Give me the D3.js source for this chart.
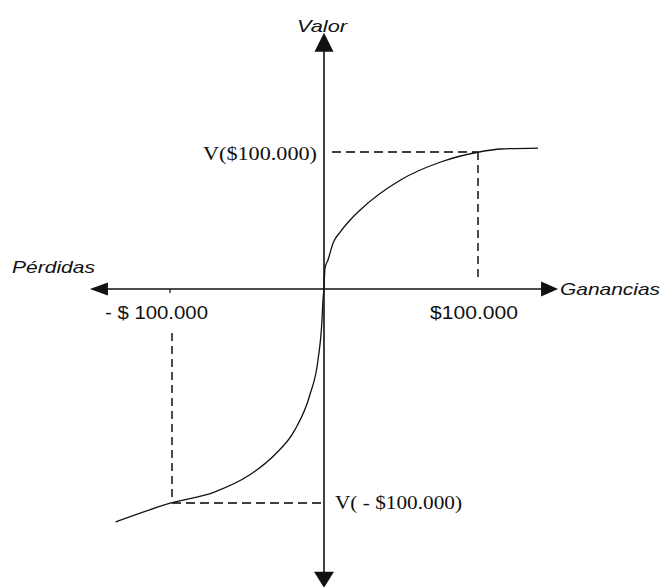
<!DOCTYPE html>
<html>
<head>
<meta charset="utf-8">
<script src="https://cdn.jsdelivr.net/npm/d3@7"></script>
<style>
  html, body { margin: 0; padding: 0; background: #fff; }
  svg { display: block; }
</style>
</head>
<body>
<script>
// ---- data (x in $ thousands, V in arbitrary value units) ----
const axisXExtent = [-152, 152];
const axisYExtent = [-218, 187];
const gainsX  = [0, 0.65, 2.6, 5.9, 10.5, 17, 23.5, 49.7, 75.8, 100.7, 115, 139];
const gainsV  = [0, 15.3, 21.2, 33.6, 41.6, 50.4, 57.7, 79.6, 92.7, 100, 102.2, 102.9];
const lossesX = [-135.3, -99.3, -71.2, -48.4, -32, -19, -9.2, -3.9, -1.3, -0.65, 0];
const lossesV = [-170, -156.2, -148.2, -135.8, -121, -103, -77.4, -51.8, -22.6, -8, 0];
const refX = [100, -100];
const refV = [100, -156.2];
const tickLabels = ["$100.000", "- $ 100.000"];
const valueLabels = ["V($100.000)", "V( - $100.000)"];
const axisTitles = ["Valor", "Pérdidas", "Ganancias"];

const W = 661, H = 587;
const svg = d3.select("body").append("svg").attr("width", W).attr("height", H);

const x = d3.scaleLinear().domain([0, 100]).range([324, 478]);
const y = d3.scaleLinear().domain([0, 100]).range([289, 152]);

const ink = "#111";

// ---- axes ----
svg.append("line")
  .attr("x1", x(axisXExtent[0]) + 10).attr("x2", x(axisXExtent[1]) - 10)
  .attr("y1", y(0)).attr("y2", y(0))
  .attr("stroke", ink).attr("stroke-width", 1.6);
svg.append("line")
  .attr("x1", x(0)).attr("x2", x(0))
  .attr("y1", y(axisYExtent[1]) + 10).attr("y2", y(axisYExtent[0]) - 10)
  .attr("stroke", ink).attr("stroke-width", 1.6);

// arrowheads
const tri = pts => "M" + pts.map(p => p.join(",")).join("L") + "Z";
const xl = x(axisXExtent[0]), xr = x(axisXExtent[1]);
const yt = y(axisYExtent[1]), yb = y(axisYExtent[0]);
const x0 = x(0), y0 = y(0);
svg.append("path").attr("d", tri([[xl, y0], [xl + 18, y0 - 6.5], [xl + 18, y0 + 6.5]])).attr("fill", ink);
svg.append("path").attr("d", tri([[xr, y0], [xr - 17, y0 - 7.5], [xr - 17, y0 + 7.5]])).attr("fill", ink);
svg.append("path").attr("d", tri([[x0, yt], [x0 - 9.5, yt + 19], [x0 + 9.5, yt + 19]])).attr("fill", ink);
svg.append("path").attr("d", tri([[x0, yb], [x0 - 10, yb - 16], [x0 + 10, yb - 16]])).attr("fill", ink);

// small tick at -100
svg.append("line")
  .attr("x1", x(refX[1])).attr("x2", x(refX[1]))
  .attr("y1", y0).attr("y2", y0 + 4)
  .attr("stroke", ink).attr("stroke-width", 1.2);

// ---- dashed reference lines ----
const dash = g => g.attr("stroke", "#000").attr("stroke-width", 1.4).attr("stroke-dasharray", "9,5").attr("fill", "none");
// gain reference
svg.append("line").call(dash)
  .attr("x1", x0 + 8).attr("x2", x(refX[0])).attr("y1", y(refV[0])).attr("y2", y(refV[0]));
svg.append("line").call(dash).attr("stroke-dasharray", "8,5")
  .attr("x1", x(refX[0])).attr("x2", x(refX[0])).attr("y1", y(refV[0])).attr("y2", y0 - 9);
// loss reference
svg.append("line").call(dash)
  .attr("x1", x(refX[1]) + 2).attr("x2", x0).attr("y1", y(refV[1])).attr("y2", y(refV[1]));
svg.append("line").call(dash).attr("stroke-dasharray", "8,5")
  .attr("x1", x(refX[1]) + 2).attr("x2", x(refX[1]) + 2).attr("y1", y0 + 44).attr("y2", y(refV[1]));

// ---- value curve ----
const line = d3.line().x(d => x(d[0])).y(d => y(d[1])).curve(d3.curveMonotoneX);
svg.append("path").datum(gainsX.map((v, i) => [v, gainsV[i]]))
  .attr("d", line).attr("fill", "none").attr("stroke", ink).attr("stroke-width", 1.3);
svg.append("path").datum(lossesX.map((v, i) => [v, lossesV[i]]))
  .attr("d", line).attr("fill", "none").attr("stroke", ink).attr("stroke-width", 1.3);

// ---- text ----
const sans = "'Liberation Sans', Arial, sans-serif";
const serif = "'Liberation Serif', 'Times New Roman', serif";
function txt(s, px, py, len, fam, size, italic) {
  return svg.append("text").text(s)
    .attr("x", px).attr("y", py)
    .attr("font-family", fam).attr("font-size", size)
    .attr("font-style", italic ? "italic" : "normal")
    .attr("textLength", len).attr("lengthAdjust", "spacingAndGlyphs")
    .attr("fill", ink);
}
txt(axisTitles[0], x0 - 27, yt - 1, 50, sans, 17, true);
txt(axisTitles[1], 12, y0 - 16, 83, sans, 17, true);
txt(axisTitles[2], xr + 2, y0 + 6, 100, sans, 17, true);
txt(tickLabels[0], x(refX[0]) - 48, y0 + 30, 88, sans, 18, false);
txt(tickLabels[1], x(refX[1]) - 65, y0 + 30, 103, sans, 18, false);
txt(valueLabels[0], x0 - 121, y(refV[0]) + 8, 114, serif, 19, false);
txt(valueLabels[1], x0 + 11, y(refV[1]) + 6, 127, serif, 19, false);
</script>
</body>
</html>
